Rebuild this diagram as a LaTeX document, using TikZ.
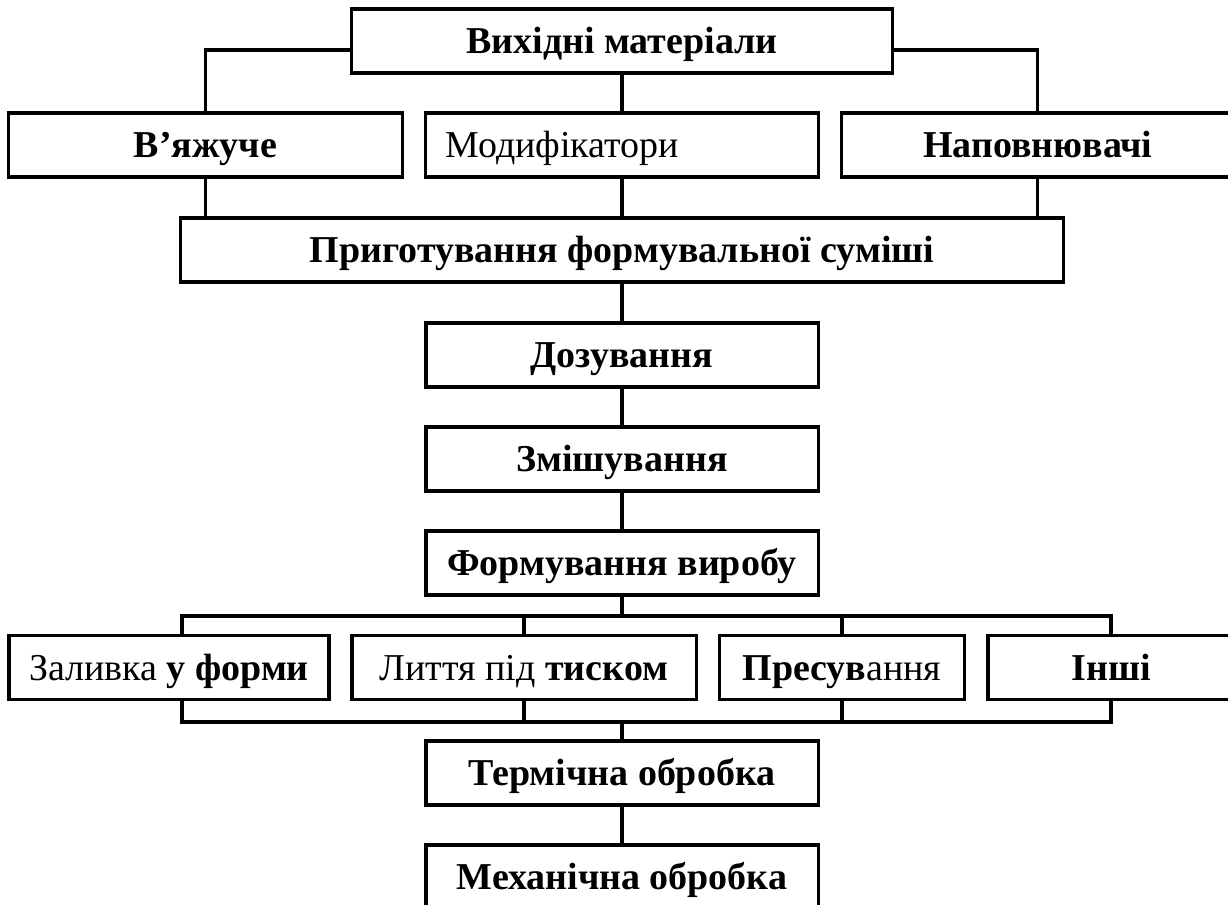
\documentclass[tikz,border=0pt]{standalone}
\usepackage{fontspec}
\setmainfont{Liberation Serif}
\usetikzlibrary{positioning}
\tikzset{
  stage/.style={draw, line width=2.2pt, inner sep=0pt, minimum height=1.6cm,
    text height=0.8cm, text depth=0.175cm,
    font=\fontsize{27}{30}\selectfont\bfseries},
  link/.style={line width=2.2pt}
}

\begin{document}
\begin{tikzpicture}[x=0.025cm, y=-0.025cm]
  \useasboundingbox (0,0) rectangle (1228,905);
  \clip (0,0) rectangle (1228,905);

  \node[stage, minimum width=13.5cm] (src) at (622,41) {Вихідні матеріали};
  \node[stage, minimum width=9.825cm] (binder) at (205.5,145) {В’яжуче};
  \node[stage, minimum width=9.825cm, text width=8.825cm, align=left] (modif) at (622,145) {\mdseries Модифікатори};
  \node[stage, minimum width=9.825cm] (filler) at (1037.8,145) {Наповнювачі};
  \node[stage, minimum width=22.05cm] (prep) at (622,250) {Приготування формувальної суміші};
  \node[stage, minimum width=9.8cm] (dose) at (622,355) {Дозування};
  \node[stage, minimum width=9.8cm] (mix) at (622,459) {Змішування};
  \node[stage, minimum width=9.8cm] (mould) at (622,563) {Формування виробу};
  \node[stage, minimum width=8cm] (pour) at (169,667.5) {{\mdseries Заливка} у форми};
  \node[stage, minimum width=8.6cm] (cast) at (524,667.5) {{\mdseries Лиття під} тиском};
  \node[stage, minimum width=6.14cm] (press) at (842,667.5) {Пресув{\mdseries ання}};
  \node[stage, minimum width=6.15cm] (other) at (1111,667.5) {Інші};
  \node[stage, minimum width=9.8cm] (heat) at (622,773) {Термічна обробка};
  \node[stage, minimum width=9.8cm] (mach) at (622,877) {Механічна обробка};

  \coordinate (bustop) at (622,616);
  \coordinate (busbot) at (622,722);
  \coordinate (pourtop) at ([xshift=0.325cm]pour.north);
  \coordinate (pourbot) at ([xshift=0.325cm]pour.south);

  \draw[link] ([yshift=-0.225cm]src.west) -| (binder.north);
  \draw[link] ([yshift=-0.225cm]src.east) -| (filler.north);
  \draw[link] (src.south) -- (modif.north);
  \draw[link] (binder.south) -- (binder.south |- prep.north);
  \draw[link] (modif.south) -- (prep.north);
  \draw[link] (filler.south) -- (filler.south |- prep.north);
  \draw[link] (prep.south) -- (dose.north);
  \draw[link] (dose.south) -- (mix.north);
  \draw[link] (mix.south) -- (mould.north);
  \draw[link] (mould.south) -- (bustop);
  \draw[link] (pourtop) |- (bustop) -| (other.north);
  \draw[link] (cast.north) -- (cast.north |- bustop);
  \draw[link] (press.north) -- (press.north |- bustop);
  \draw[link] (pourbot) |- (busbot) -| (other.south);
  \draw[link] (cast.south) -- (cast.south |- busbot);
  \draw[link] (press.south) -- (press.south |- busbot);
  \draw[link] (busbot) -- (heat.north);
  \draw[link] (heat.south) -- (mach.north);
\end{tikzpicture}
\end{document}
